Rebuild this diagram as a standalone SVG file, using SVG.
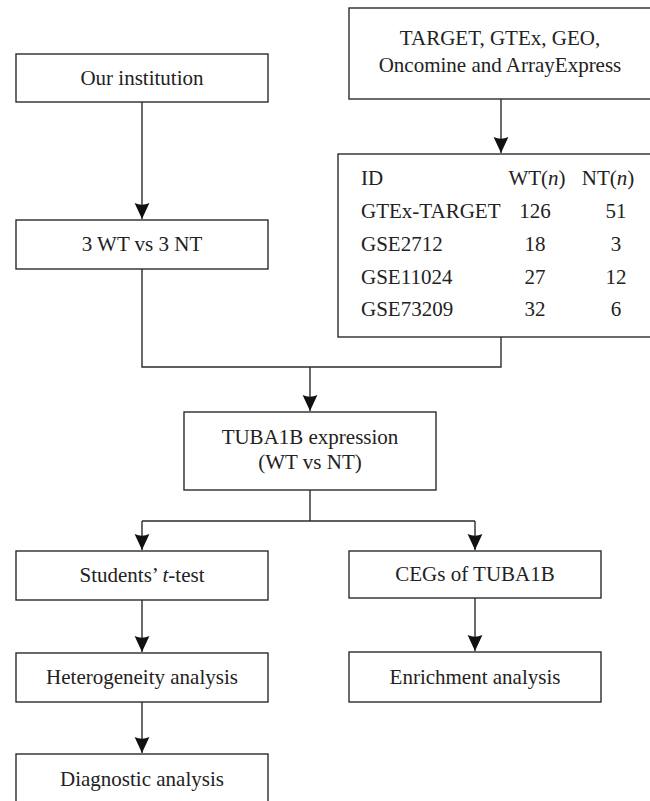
<svg xmlns="http://www.w3.org/2000/svg" width="650" height="801" viewBox="0 0 650 801">
<style>
.box{fill:#fff;stroke:#2b2b2b;stroke-width:1.4}
.t{font-family:'Liberation Serif','Times New Roman',serif;font-size:21px;fill:#222;text-anchor:middle}
.l{text-anchor:start}
.c{fill:none;stroke:#2b2b2b;stroke-width:1.4}
</style>
<defs>
<marker id="ah" markerUnits="userSpaceOnUse" markerWidth="18" markerHeight="18" refX="0" refY="0" viewBox="-16 -8 17 16" orient="auto" overflow="visible">
<path d="M0,0 L-15,-7 Q-12,0 -15,7 Z" fill="#111"/>
</marker>
</defs>
<rect width="650" height="801" fill="#fff"/>
<g id="connectors">
<path class="c" d="M142,102 V219" marker-end="url(#ah)"/>
<path class="c" d="M501,99 V153" marker-end="url(#ah)"/>
<path class="c" d="M142,269 V367 H501 V337"/>
<path class="c" d="M310,367 V411" marker-end="url(#ah)"/>
<path class="c" d="M310,490 V521 M142,521 H475"/>
<path class="c" d="M142,521 V550" marker-end="url(#ah)"/>
<path class="c" d="M475,521 V550" marker-end="url(#ah)"/>
<path class="c" d="M142,600 V652" marker-end="url(#ah)"/>
<path class="c" d="M142,702 V753" marker-end="url(#ah)"/>
<path class="c" d="M475,598 V651" marker-end="url(#ah)"/>
</g>
<g id="our-institution">
<rect class="box" x="16" y="54" width="252" height="48"/>
<text class="t" x="142" y="85">Our institution</text>
</g>
<g id="databases">
<rect class="box" x="349" y="8" width="304" height="91"/>
<text class="t" x="500" y="45">TARGET, GTEx, GEO,</text>
<text class="t" x="500" y="72">Oncomine and ArrayExpress</text>
</g>
<g id="dataset-table">
<rect class="box" x="338" y="154" width="326" height="183"/>
<text class="t l" x="361" y="185">ID</text>
<text class="t" x="537" y="185">WT(<tspan font-style="italic">n</tspan>)</text>
<text class="t" x="608" y="185">NT(<tspan font-style="italic">n</tspan>)</text>
<text class="t l" x="361" y="218">GTEx-TARGET</text>
<text class="t" x="535" y="218">126</text>
<text class="t" x="616" y="218">51</text>
<text class="t l" x="361" y="251">GSE2712</text>
<text class="t" x="535" y="251">18</text>
<text class="t" x="616" y="251">3</text>
<text class="t l" x="361" y="284">GSE11024</text>
<text class="t" x="535" y="284">27</text>
<text class="t" x="616" y="284">12</text>
<text class="t l" x="361" y="316">GSE73209</text>
<text class="t" x="535" y="316">32</text>
<text class="t" x="616" y="316">6</text>
</g>
<g id="wt-vs-nt">
<rect class="box" x="16" y="220" width="252" height="49"/>
<text class="t" x="142" y="251">3 WT vs 3 NT</text>
</g>
<g id="tuba1b-expression">
<rect class="box" x="184" y="412" width="252" height="78"/>
<text class="t" x="310" y="444">TUBA1B expression</text>
<text class="t" x="310" y="469">(WT vs NT)</text>
</g>
<g id="students-t-test">
<rect class="box" x="16" y="551" width="252" height="49"/>
<text class="t" x="142" y="582">Students’ <tspan font-style="italic">t</tspan>-test</text>
</g>
<g id="cegs">
<rect class="box" x="349" y="551" width="252" height="47"/>
<text class="t" x="475" y="581">CEGs of TUBA1B</text>
</g>
<g id="heterogeneity">
<rect class="box" x="16" y="653" width="252" height="49"/>
<text class="t" x="142" y="684">Heterogeneity analysis</text>
</g>
<g id="enrichment">
<rect class="box" x="349" y="652" width="252" height="50"/>
<text class="t" x="475" y="684">Enrichment analysis</text>
</g>
<g id="diagnostic">
<rect class="box" x="16" y="754" width="252" height="60"/>
<text class="t" x="142" y="786">Diagnostic analysis</text>
</g>
</svg>
